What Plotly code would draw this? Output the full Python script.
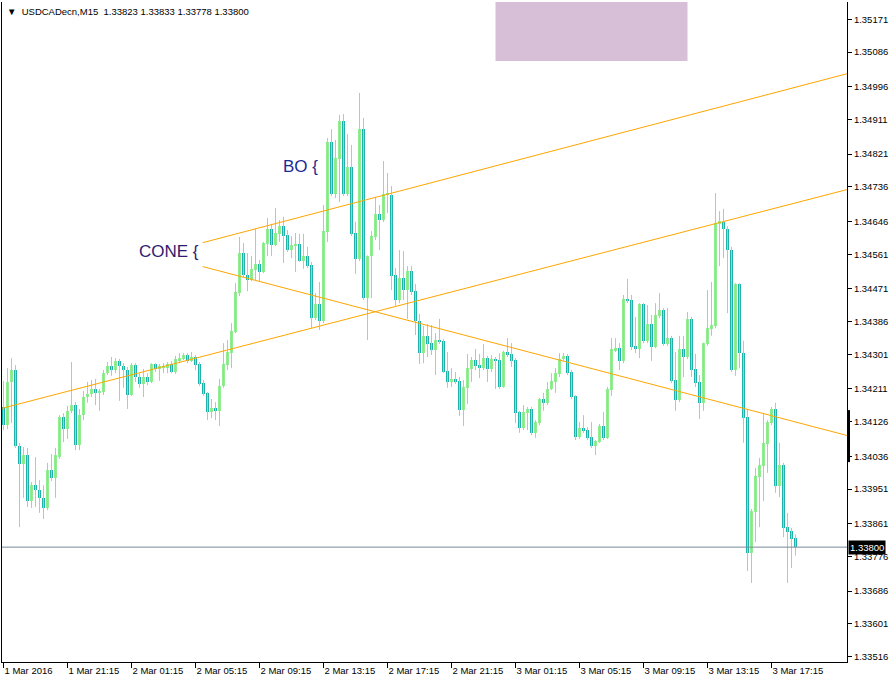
import plotly.graph_objects as go

symbol = "USDCADecn,M15"
last_ohlc = ["1.33823", "1.33833", "1.33778", "1.33800"]

opens = [1.34164, 1.34117, 1.34229, 1.34260, 1.34063, 1.34016, 1.34039, 1.33920, 1.33961, 1.33948,
         1.33928, 1.33902, 1.34000, 1.33980, 1.34034, 1.34138, 1.34107, 1.34154, 1.34169, 1.34065,
         1.34143, 1.34190, 1.34198, 1.34211, 1.34201, 1.34203, 1.34252, 1.34271, 1.34260, 1.34284,
         1.34271, 1.34260, 1.34195, 1.34273, 1.34242, 1.34224, 1.34242, 1.34229, 1.34276, 1.34263,
         1.34266, 1.34266, 1.34276, 1.34255, 1.34286, 1.34289, 1.34299, 1.34284, 1.34294, 1.34276,
         1.34226, 1.34201, 1.34151, 1.34161, 1.34154, 1.34219, 1.34273, 1.34304, 1.34359, 1.34460,
         1.34564, 1.34507, 1.34494, 1.34520, 1.34536, 1.34515, 1.34588, 1.34627, 1.34585, 1.34614,
         1.34634, 1.34611, 1.34572, 1.34582, 1.34588, 1.34543, 1.34556, 1.34533, 1.34395, 1.34432,
         1.34388, 1.34619, 1.34853, 1.34718, 1.34808, 1.34907, 1.34718, 1.34788, 1.34616, 1.34549,
         1.34886, 1.34447, 1.34556, 1.34606, 1.34666, 1.34650, 1.34715, 1.34716, 1.34507, 1.34442,
         1.34499, 1.34468, 1.34517, 1.34465, 1.34388, 1.34304, 1.34349, 1.34330, 1.34312, 1.34338,
         1.34336, 1.34258, 1.34229, 1.34237, 1.34232, 1.34156, 1.34214, 1.34263, 1.34286, 1.34273,
         1.34265, 1.34291, 1.34263, 1.34289, 1.34286, 1.34216, 1.34307, 1.34302, 1.34286, 1.34151,
         1.34110, 1.34148, 1.34159, 1.34097, 1.34123, 1.34185, 1.34175, 1.34211, 1.34229, 1.34250,
         1.34289, 1.34297, 1.34255, 1.34193, 1.34086, 1.34110, 1.34104, 1.34086, 1.34063, 1.34073,
         1.34115, 1.34084, 1.34208, 1.34312, 1.34317, 1.34284, 1.34445, 1.34442, 1.34323, 1.34315,
         1.34432, 1.34336, 1.34380, 1.34320, 1.34400, 1.34416, 1.34328, 1.34343, 1.34234, 1.34182,
         1.34315, 1.34294, 1.34393, 1.34263, 1.34229, 1.34175, 1.34328, 1.34367, 1.34374, 1.34642,
         1.34645, 1.34627, 1.34572, 1.34260, 1.34484, 1.34304, 1.34138, 1.33785, 1.33891, 1.33982,
         1.34011, 1.34068, 1.34123, 1.34159, 1.33959, 1.34013, 1.33852, 1.33842, 1.33823]

highs = [1.34232, 1.34265, 1.34291, 1.34273, 1.34071, 1.34060, 1.34058, 1.33969, 1.34034, 1.33974,
         1.33961, 1.34019, 1.34042, 1.34058, 1.34143, 1.34148, 1.34167, 1.34281, 1.34177, 1.34159,
         1.34206, 1.34229, 1.34234, 1.34237, 1.34211, 1.34260, 1.34281, 1.34294, 1.34291, 1.34289,
         1.34278, 1.34268, 1.34278, 1.34278, 1.34252, 1.34263, 1.34252, 1.34278, 1.34278, 1.34276,
         1.34278, 1.34281, 1.34284, 1.34297, 1.34304, 1.34304, 1.34304, 1.34307, 1.34299, 1.34281,
         1.34234, 1.34203, 1.34185, 1.34177, 1.34237, 1.34330, 1.34338, 1.34382, 1.34486, 1.34606,
         1.34590, 1.34564, 1.34556, 1.34627, 1.34546, 1.34593, 1.34655, 1.34640, 1.34681, 1.34650,
         1.34658, 1.34624, 1.34608, 1.34616, 1.34614, 1.34614, 1.34580, 1.34541, 1.34460, 1.34489,
         1.34689, 1.34863, 1.34886, 1.34858, 1.34923, 1.34925, 1.34873, 1.34845, 1.34645, 1.34980,
         1.34915, 1.34558, 1.34621, 1.34710, 1.34689, 1.34803, 1.34772, 1.34738, 1.34525, 1.34572,
         1.34569, 1.34530, 1.34530, 1.34484, 1.34406, 1.34375, 1.34380, 1.34377, 1.34356, 1.34393,
         1.34341, 1.34307, 1.34265, 1.34255, 1.34242, 1.34234, 1.34302, 1.34294, 1.34315, 1.34302,
         1.34328, 1.34297, 1.34299, 1.34294, 1.34304, 1.34310, 1.34343, 1.34330, 1.34291, 1.34154,
         1.34169, 1.34164, 1.34164, 1.34130, 1.34188, 1.34201, 1.34229, 1.34252, 1.34265, 1.34304,
         1.34304, 1.34302, 1.34260, 1.34195, 1.34125, 1.34143, 1.34112, 1.34125, 1.34078, 1.34120,
         1.34151, 1.34216, 1.34343, 1.34343, 1.34330, 1.34455, 1.34497, 1.34455, 1.34398, 1.34434,
         1.34434, 1.34429, 1.34403, 1.34434, 1.34460, 1.34421, 1.34421, 1.34349, 1.34307, 1.34349,
         1.34349, 1.34411, 1.34398, 1.34302, 1.34247, 1.34331, 1.34468, 1.34489, 1.34720, 1.34673,
         1.34679, 1.34634, 1.34580, 1.34486, 1.34486, 1.34336, 1.34159, 1.33899, 1.34006, 1.34032,
         1.34148, 1.34130, 1.34164, 1.34175, 1.34071, 1.34019, 1.33889, 1.33850, 1.33833]

lows = [1.34104, 1.34107, 1.34122, 1.34058, 1.33852, 1.33928, 1.33904, 1.33902, 1.33904, 1.33889,
        1.33873, 1.33896, 1.33972, 1.33928, 1.34029, 1.34073, 1.34081, 1.34148, 1.34052, 1.34052,
        1.34130, 1.34175, 1.34190, 1.34169, 1.34154, 1.34195, 1.34247, 1.34245, 1.34252, 1.34180,
        1.34214, 1.34159, 1.34193, 1.34229, 1.34214, 1.34190, 1.34221, 1.34226, 1.34255, 1.34232,
        1.34252, 1.34252, 1.34252, 1.34250, 1.34278, 1.34286, 1.34278, 1.34281, 1.34260, 1.34219,
        1.34193, 1.34130, 1.34135, 1.34130, 1.34115, 1.34214, 1.34260, 1.34265, 1.34356, 1.34452,
        1.34502, 1.34465, 1.34491, 1.34494, 1.34489, 1.34512, 1.34556, 1.34556, 1.34582, 1.34593,
        1.34538, 1.34567, 1.34551, 1.34515, 1.34541, 1.34523, 1.34525, 1.34369, 1.34390, 1.34364,
        1.34382, 1.34593, 1.34712, 1.34707, 1.34697, 1.34712, 1.34712, 1.34608, 1.34510, 1.34543,
        1.34442, 1.34338, 1.34447, 1.34598, 1.34572, 1.34645, 1.34668, 1.34468, 1.34427, 1.34434,
        1.34442, 1.34393, 1.34455, 1.34351, 1.34276, 1.34278, 1.34294, 1.34299, 1.34247, 1.34328,
        1.34252, 1.34214, 1.34216, 1.34224, 1.34141, 1.34115, 1.34172, 1.34229, 1.34260, 1.34239,
        1.34260, 1.34229, 1.34255, 1.34211, 1.34211, 1.34214, 1.34294, 1.34268, 1.34122, 1.34097,
        1.34104, 1.34104, 1.34091, 1.34084, 1.34117, 1.34154, 1.34169, 1.34208, 1.34201, 1.34242,
        1.34284, 1.34247, 1.34185, 1.34078, 1.34081, 1.34097, 1.34078, 1.34058, 1.34039, 1.34071,
        1.34078, 1.34081, 1.34193, 1.34307, 1.34260, 1.34278, 1.34434, 1.34312, 1.34304, 1.34291,
        1.34330, 1.34330, 1.34284, 1.34317, 1.34395, 1.34323, 1.34323, 1.34226, 1.34154, 1.34177,
        1.34242, 1.34289, 1.34242, 1.34216, 1.34133, 1.34154, 1.34323, 1.34349, 1.34369, 1.34530,
        1.34551, 1.34408, 1.34255, 1.34245, 1.34265, 1.34071, 1.33738, 1.33707, 1.33813, 1.33852,
        1.33920, 1.33993, 1.34117, 1.33941, 1.33930, 1.33826, 1.33707, 1.33746, 1.33778]

closes = [1.34117, 1.34229, 1.34260, 1.34063, 1.34016, 1.34039, 1.33920, 1.33961, 1.33948, 1.33928,
          1.33902, 1.34000, 1.33980, 1.34039, 1.34138, 1.34107, 1.34154, 1.34169, 1.34065, 1.34143,
          1.34190, 1.34198, 1.34211, 1.34201, 1.34204, 1.34252, 1.34271, 1.34260, 1.34284, 1.34271,
          1.34260, 1.34195, 1.34273, 1.34242, 1.34224, 1.34242, 1.34229, 1.34276, 1.34263, 1.34271,
          1.34271, 1.34276, 1.34255, 1.34289, 1.34291, 1.34299, 1.34284, 1.34294, 1.34273, 1.34224,
          1.34198, 1.34151, 1.34161, 1.34154, 1.34219, 1.34276, 1.34307, 1.34362, 1.34463, 1.34564,
          1.34507, 1.34494, 1.34523, 1.34536, 1.34515, 1.34590, 1.34627, 1.34585, 1.34616, 1.34634,
          1.34608, 1.34572, 1.34585, 1.34588, 1.34543, 1.34556, 1.34530, 1.34395, 1.34432, 1.34388,
          1.34621, 1.34853, 1.34718, 1.34811, 1.34907, 1.34718, 1.34788, 1.34614, 1.34549, 1.34886,
          1.34447, 1.34556, 1.34608, 1.34666, 1.34650, 1.34718, 1.34718, 1.34504, 1.34442, 1.34499,
          1.34468, 1.34517, 1.34463, 1.34388, 1.34304, 1.34349, 1.34328, 1.34312, 1.34338, 1.34333,
          1.34255, 1.34229, 1.34237, 1.34229, 1.34156, 1.34216, 1.34265, 1.34286, 1.34271, 1.34265,
          1.34291, 1.34263, 1.34289, 1.34284, 1.34216, 1.34307, 1.34299, 1.34284, 1.34148, 1.34110,
          1.34151, 1.34159, 1.34097, 1.34125, 1.34185, 1.34175, 1.34211, 1.34232, 1.34252, 1.34289,
          1.34297, 1.34252, 1.34190, 1.34086, 1.34110, 1.34102, 1.34084, 1.34063, 1.34076, 1.34115,
          1.34084, 1.34211, 1.34315, 1.34317, 1.34284, 1.34445, 1.34440, 1.34320, 1.34315, 1.34432,
          1.34336, 1.34380, 1.34320, 1.34403, 1.34416, 1.34328, 1.34343, 1.34232, 1.34182, 1.34315,
          1.34294, 1.34393, 1.34260, 1.34226, 1.34175, 1.34330, 1.34369, 1.34377, 1.34642, 1.34647,
          1.34627, 1.34572, 1.34260, 1.34484, 1.34304, 1.34135, 1.33785, 1.33894, 1.33985, 1.34013,
          1.34071, 1.34125, 1.34159, 1.33959, 1.34013, 1.33850, 1.33839, 1.33821, 1.33800]

time_labels = ["1 Mar 2016", "1 Mar 21:15", "2 Mar 01:15", "2 Mar 05:15", "2 Mar 09:15",
               "2 Mar 13:15", "2 Mar 17:15", "2 Mar 21:15", "3 Mar 01:15", "3 Mar 05:15",
               "3 Mar 09:15", "3 Mar 13:15", "3 Mar 17:15"]
time_label_bars = [0, 16, 32, 48, 64, 80, 96, 112, 128, 144, 160, 176, 192]

price_ticks = [1.35171, 1.35086, 1.34996, 1.34911, 1.34821, 1.34736, 1.34646, 1.34561, 1.34471,
               1.34386, 1.34301, 1.34211, 1.34126, 1.34036, 1.33951, 1.33861, 1.33776, 1.33686,
               1.33601, 1.33516]
bid_price = 1.33800

# trend-line objects (bar index, price)
cone_upper_bars = [49.8, 212.0]
cone_upper_prices = [1.34591, 1.35033]
cone_lower_bars = [-1.0, 212.0]
cone_lower_prices = [1.34159, 1.34732]
cone_down_bars = [49.8, 212.0]
cone_down_prices = [1.34529, 1.34087]

# rectangle object
zone_bars = [123, 171]
zone_prices = [1.35063, 1.35300]

# price-scale marker (black band on the scale)
scale_marker_prices = [1.34021, 1.34156]

# text objects
text_labels = ["CONE {", "BO {"]
text_bars = [33.4, 69.4]
text_prices = [1.34569, 1.34788]
text_colors = ["#321b6e", "#1c2b94"]

BULL = "#90EE90"
BEAR = "#20B2AA"
WICK = "#C0C0C0"
FONT = "Liberation Sans, Arial, sans-serif"

n = len(opens)
idx = list(range(n))

fig = go.Figure()

# wicks
wx, wy = [], []
for i in idx:
    wx += [i, i, None]
    wy += [lows[i], highs[i], None]
fig.add_trace(go.Scatter(x=wx, y=wy, mode="lines", line=dict(color=WICK, width=1),
                         hoverinfo="skip", showlegend=False))

# bodies
bull = [i for i in idx if closes[i] >= opens[i]]
bear = [i for i in idx if closes[i] < opens[i]]
fig.add_trace(go.Bar(x=bull, base=[opens[i] for i in bull],
                     y=[closes[i] - opens[i] for i in bull],
                     width=0.75, marker=dict(color=BULL, line=dict(width=0)),
                     showlegend=False))
fig.add_trace(go.Bar(x=bear, base=[closes[i] for i in bear],
                     y=[opens[i] - closes[i] for i in bear],
                     width=0.75, marker=dict(color=BEAR, line=dict(width=0)),
                     showlegend=False))

# trend lines
for bx, by in [(cone_upper_bars, cone_upper_prices),
               (cone_lower_bars, cone_lower_prices),
               (cone_down_bars, cone_down_prices)]:
    fig.add_trace(go.Scatter(x=bx, y=by, mode="lines",
                             line=dict(color="#FFA500", width=1),
                             hoverinfo="skip", showlegend=False))

shapes = [
    dict(type="rect", xref="x", yref="y", x0=zone_bars[0], x1=zone_bars[1],
         y0=zone_prices[0], y1=zone_prices[1], fillcolor="#D8BFD8",
         line=dict(width=0), layer="below"),
    dict(type="line", xref="paper", yref="y", x0=0, x1=1, y0=bid_price, y1=bid_price,
         line=dict(color="#778899", width=1)),
    dict(type="rect", xref="paper", yref="y", x0=1.0, x1=1.0 + 3.0 / 845,
         y0=scale_marker_prices[0], y1=scale_marker_prices[1],
         fillcolor="black", line=dict(width=0), layer="above"),
]

annotations = [
    dict(xref="paper", yref="paper", x=0, y=1, xanchor="left", yanchor="top",
         xshift=3, yshift=-2, showarrow=False,
         text="\u25BC  " + symbol + "  " + " ".join(last_ohlc),
         font=dict(family=FONT, size=9.5, color="black")),
    dict(xref="paper", yref="y", x=1, y=bid_price, xanchor="left", yanchor="middle",
         xshift=1, showarrow=False, text=f"{bid_price:.5f}", bgcolor="black",
         borderpad=1, font=dict(family=FONT, size=9.5, color="white")),
]
for t, bx, by, c in zip(text_labels, text_bars, text_prices, text_colors):
    annotations.append(dict(xref="x", yref="y", x=bx, y=by, xanchor="left",
                            yanchor="middle", showarrow=False, text=t,
                            font=dict(family=FONT, size=17, color=c)))

fig.update_layout(
    width=890, height=681,
    margin=dict(l=2, r=43, t=2, b=19, pad=0),
    paper_bgcolor="white", plot_bgcolor="white",
    barmode="overlay", bargap=0, showlegend=False,
    font=dict(family=FONT, size=9.5, color="black"),
    shapes=shapes, annotations=annotations,
    xaxis=dict(range=[-0.375, 210.875], showgrid=False, zeroline=False,
               showline=True, linecolor="black", linewidth=1, mirror=False,
               ticks="outside", ticklen=5, tickcolor="black",
               tickvals=time_label_bars, ticktext=time_labels,
               ticklabelposition="outside right", tickfont=dict(size=9.5),
               fixedrange=True),
    yaxis=dict(range=[1.335016, 1.352163], side="right", showgrid=False, zeroline=False,
               showline=True, linecolor="black", linewidth=1, mirror=True,
               ticks="outside", ticklen=4, tickcolor="black",
               tickvals=price_ticks, ticktext=[f"{v:.5f}" for v in price_ticks],
               tickfont=dict(size=9.5), fixedrange=True),
)

fig.write_html(
    "out.html",
    config={"displayModeBar": False},
    post_script="document.body.style.margin='0';document.body.style.padding='0';"
                "document.documentElement.style.overflow='hidden';",
)
